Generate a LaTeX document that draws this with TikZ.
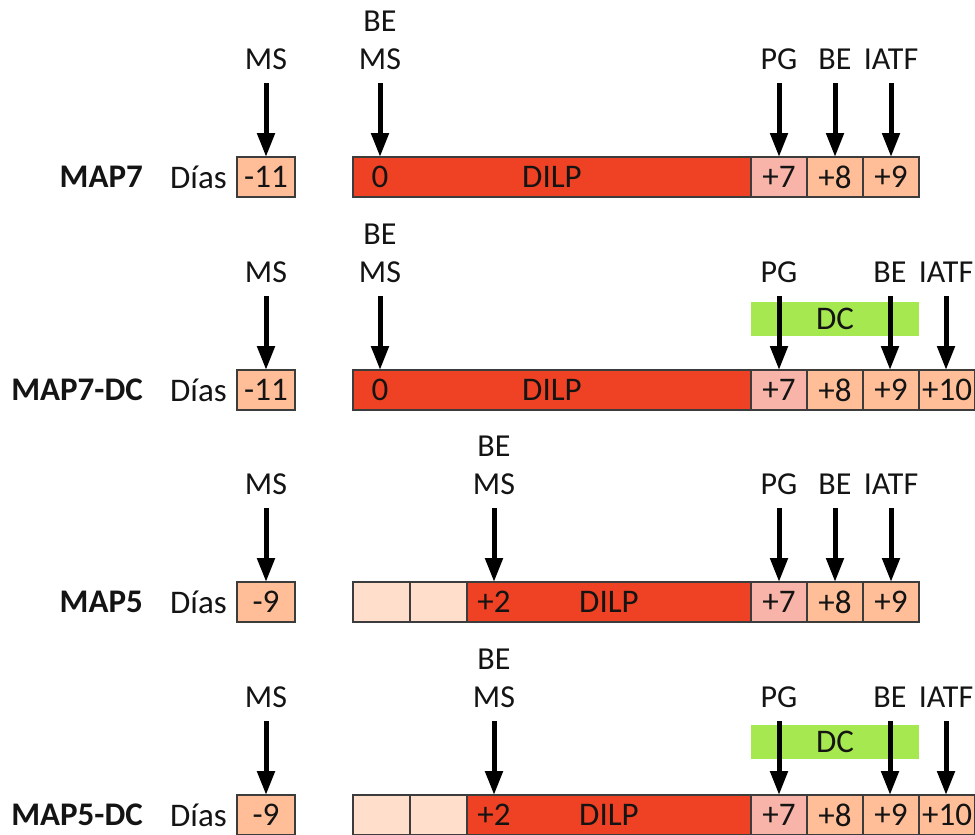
\documentclass[tikz,border=0pt]{standalone}
\usepackage{fontspec}
\setmainfont{Carlito}
\usetikzlibrary{arrows.meta}
\definecolor{dilp}{RGB}{239,65,35}
\definecolor{pgc}{RGB}{248,180,168}
\definecolor{dayc}{RGB}{255,190,152}
\definecolor{palec}{RGB}{255,222,204}
\definecolor{dcg}{RGB}{166,232,80}
\definecolor{edgec}{RGB}{60,60,60}
\definecolor{txt}{RGB}{20,20,20}
\begin{document}
\begin{tikzpicture}[x=1pt,y=-1pt,
  font=\fontsize{33}{40}\selectfont, text=txt,
  cell/.style={draw=edgec, line width=1.3pt, minimum height=40pt, inner sep=0pt, outer sep=0pt},
  dcbar/.style={fill=dcg, minimum width=168pt, minimum height=34pt, inner sep=0pt},
  evt/.style={line width=5pt, -{Triangle[width=17pt,length=24pt]}},
  lbl/.style={anchor=base, inner sep=0pt, font=\fontsize{32}{38}\selectfont},
  rowname/.style={anchor=east, inner sep=0pt, font=\fontsize{33}{40}\selectfont\bfseries},
  dias/.style={anchor=west, inner sep=0pt}]
\useasboundingbox (0,0) rectangle (975,835);

% ---------------- Row 1: MAP7 ----------------
\node[rowname] (n1) at (143,177) {MAP7};
\node[dias] (d1) at (170,177) {Días};
\node[cell, fill=dayc, minimum width=58pt] (m1) at (266,177) {-11};
\node[cell, fill=dilp, minimum width=398pt] (b1) at (552,177) {};
\node (z1) at (380,177) {0};
\node (t1) at (552,177) {DILP};
\node[cell, fill=pgc, minimum width=56pt] (p1) at (779,177) {+7};
\node[cell, fill=dayc, minimum width=56pt] (e1) at (835,177) {+8};
\node[cell, fill=dayc, minimum width=56pt] (i1) at (891,177) {+9};
\node[lbl] (lms1) at (266,69) {MS};
\node[lbl] (lbe1) at (380,31) {BE};
\node[lbl] (lbm1) at (380,69) {MS};
\node[lbl] (lpg1) at (779,69) {PG};
\node[lbl] (le1) at (835,69) {BE};
\node[lbl] (li1) at (891,69) {IATF};
\draw[evt] (lms1.base) ++(0,14) -- (lms1.base |- m1.north);
\draw[evt] (lbm1.base) ++(0,14) -- (lbm1.base |- b1.north);
\draw[evt] (lpg1.base) ++(0,14) -- (lpg1.base |- p1.north);
\draw[evt] (le1.base) ++(0,14) -- (le1.base |- e1.north);
\draw[evt] (li1.base) ++(0,14) -- (li1.base |- i1.north);

% ---------------- Row 2: MAP7-DC ----------------
\node[rowname] (n2) at (143,390) {MAP7-DC};
\node[dias] (d2) at (170,390) {Días};
\node[cell, fill=dayc, minimum width=58pt] (m2) at (266,390) {-11};
\node[cell, fill=dilp, minimum width=398pt] (b2) at (552,390) {};
\node (z2) at (380,390) {0};
\node (t2) at (552,390) {DILP};
\node[cell, fill=pgc, minimum width=56pt] (p2) at (779,390) {+7};
\node[cell, fill=dayc, minimum width=56pt] (e2) at (835,390) {+8};
\node[cell, fill=dayc, minimum width=56pt] (f2) at (891,390) {+9};
\node[cell, fill=dayc, minimum width=56pt] (i2) at (947,390) {};
\node[anchor=west, inner sep=0pt] (i2t) at (922,390) {+10};
\node[dcbar] (dc2) at (835,319) {DC};
\node[lbl] (lms2) at (266,282) {MS};
\node[lbl] (lbe2) at (380,244) {BE};
\node[lbl] (lbm2) at (380,282) {MS};
\node[lbl] (lpg2) at (779,282) {PG};
\node[lbl] (le2) at (890,282) {BE};
\node[lbl] (li2) at (946,282) {IATF};
\draw[evt] (lms2.base) ++(0,14) -- (lms2.base |- m2.north);
\draw[evt] (lbm2.base) ++(0,14) -- (lbm2.base |- b2.north);
\draw[evt] (lpg2.base) ++(0,14) -- (lpg2.base |- p2.north);
\draw[evt] (le2.base) ++(0,14) -- (le2.base |- f2.north);
\draw[evt] (li2.base) ++(0,14) -- (li2.base |- i2.north);

% ---------------- Row 3: MAP5 ----------------
\node[rowname] (n3) at (143,602) {MAP5};
\node[dias] (d3) at (170,602) {Días};
\node[cell, fill=dayc, minimum width=58pt] (m3) at (266,602) {-9};
\node[cell, fill=palec, minimum width=57pt] (q3a) at (381.5,602) {};
\node[cell, fill=palec, minimum width=57pt] (q3b) at (438.5,602) {};
\node[cell, fill=dilp, minimum width=284pt] (b3) at (609,602) {};
\node (z3) at (494,602) {+2};
\node (t3) at (609,602) {DILP};
\node[cell, fill=pgc, minimum width=56pt] (p3) at (779,602) {+7};
\node[cell, fill=dayc, minimum width=56pt] (e3) at (835,602) {+8};
\node[cell, fill=dayc, minimum width=56pt] (i3) at (891,602) {+9};
\node[lbl] (lms3) at (266,494) {MS};
\node[lbl] (lbe3) at (494,456) {BE};
\node[lbl] (lbm3) at (494,494) {MS};
\node[lbl] (lpg3) at (779,494) {PG};
\node[lbl] (le3) at (835,494) {BE};
\node[lbl] (li3) at (891,494) {IATF};
\draw[evt] (lms3.base) ++(0,14) -- (lms3.base |- m3.north);
\draw[evt] (lbm3.base) ++(0,14) -- (lbm3.base |- b3.north);
\draw[evt] (lpg3.base) ++(0,14) -- (lpg3.base |- p3.north);
\draw[evt] (le3.base) ++(0,14) -- (le3.base |- e3.north);
\draw[evt] (li3.base) ++(0,14) -- (li3.base |- i3.north);

% ---------------- Row 4: MAP5-DC ----------------
\node[rowname] (n4) at (143,815) {MAP5-DC};
\node[dias] (d4) at (170,815) {Días};
\node[cell, fill=dayc, minimum width=58pt] (m4) at (266,815) {-9};
\node[cell, fill=palec, minimum width=57pt] (q4a) at (381.5,815) {};
\node[cell, fill=palec, minimum width=57pt] (q4b) at (438.5,815) {};
\node[cell, fill=dilp, minimum width=284pt] (b4) at (609,815) {};
\node (z4) at (494,815) {+2};
\node (t4) at (609,815) {DILP};
\node[cell, fill=pgc, minimum width=56pt] (p4) at (779,815) {+7};
\node[cell, fill=dayc, minimum width=56pt] (e4) at (835,815) {+8};
\node[cell, fill=dayc, minimum width=56pt] (f4) at (891,815) {+9};
\node[cell, fill=dayc, minimum width=56pt] (i4) at (947,815) {};
\node[anchor=west, inner sep=0pt] (i4t) at (922,815) {+10};
\node[dcbar] (dc4) at (835,742) {DC};
\node[lbl] (lms4) at (266,707) {MS};
\node[lbl] (lbe4) at (494,669) {BE};
\node[lbl] (lbm4) at (494,707) {MS};
\node[lbl] (lpg4) at (779,707) {PG};
\node[lbl] (le4) at (890,707) {BE};
\node[lbl] (li4) at (946,707) {IATF};
\draw[evt] (lms4.base) ++(0,14) -- (lms4.base |- m4.north);
\draw[evt] (lbm4.base) ++(0,14) -- (lbm4.base |- b4.north);
\draw[evt] (lpg4.base) ++(0,14) -- (lpg4.base |- p4.north);
\draw[evt] (le4.base) ++(0,14) -- (le4.base |- f4.north);
\draw[evt] (li4.base) ++(0,14) -- (li4.base |- i4.north);
\end{tikzpicture}
\end{document}
